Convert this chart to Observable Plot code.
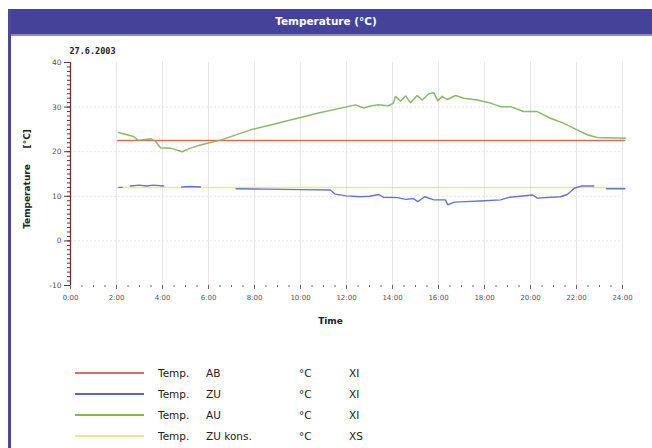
<!DOCTYPE html>
<html>
<head>
<meta charset="utf-8">
<script src="https://cdn.jsdelivr.net/npm/d3@7"></script>
<script src="https://cdn.jsdelivr.net/npm/@observablehq/plot@0.6"></script>
<style>
  body { margin: 0; background: #fff; }
  #wrap { position: relative; width: 652px; height: 448px; overflow: hidden; background: #fff; font-family: "DejaVu Sans", Verdana, sans-serif; }
  #leftbar { position: absolute; left: 8px; top: 9px; width: 3px; height: 439px; background: #4a479c; }
  #titlebar { position: absolute; left: 8px; top: 9px; width: 644px; height: 25px; background: #45429a; color: #fff; font-weight: bold; font-size: 10.5px; text-align: center; line-height: 25px; border-bottom: 2px solid #8c8ac4; }
  #titlebar span { position: relative; left: -4px; }
  #plot { position: absolute; left: 12px; top: 35px; }
  .leg { position: absolute; left: 0; height: 14px; font-size: 10.5px; line-height: 14px; color: #222; }
  .leg .ln { position: absolute; left: 75px; top: 6px; width: 69px; height: 2px; }
  .leg .t1 { position: absolute; left: 158px; top: 0; }
  .leg .t2 { position: absolute; left: 206px; top: 0; }
  .leg .t3 { position: absolute; left: 299px; top: 0; }
  .leg .t4 { position: absolute; left: 349px; top: 0; }
</style>
</head>
<body>
<div id="wrap">
  <div id="titlebar"><span>Temperature (°C)</span></div>
  <div id="leftbar"></div>
  <div id="plot"></div>
  <div id="legend"></div>
</div>
<script>
// ---- data ----
const hourTicks = [0, 2, 4, 6, 8, 10, 12, 14, 16, 18, 20, 22, 24];
const hourLabels = ["0:00", "2:00", "4:00", "6:00", "8:00", "10:00", "12:00", "14:00", "16:00", "18:00", "20:00", "22:00", "24:00"];
const tempTicks = [-10, 0, 10, 20, 30, 40];

const abTime = [2.05, 24.1];
const abVal = [22.5, 22.5];

const zuKonsTime = [2.05, 24.1];
const zuKonsVal = [12.0, 12.0];

const auTime = [2.09, 2.74, 2.96, 3.48, 3.7, 3.91, 4.35, 4.86, 5.22, 5.65, 6.52, 7.83, 9.26, 10.73, 11.6, 12.39, 12.74, 13.0, 13.33, 13.83, 14.04, 14.13, 14.35, 14.57, 14.78, 15.07, 15.29, 15.58, 15.8, 15.97, 16.16, 16.38, 16.74, 17.1, 17.68, 18.26, 18.7, 19.13, 19.7, 20.29, 20.87, 21.43, 22.03, 22.47, 22.9, 24.13];
const auVal  = [24.3, 23.4, 22.5, 22.9, 22.3, 20.9, 20.8, 20.0, 20.8, 21.5, 22.6, 24.9, 26.7, 28.6, 29.6, 30.5, 29.8, 30.2, 30.5, 30.3, 30.9, 32.4, 31.3, 32.5, 31.0, 32.6, 31.6, 33.0, 33.2, 31.4, 32.4, 31.7, 32.6, 32.0, 31.6, 30.9, 30.1, 30.1, 29.0, 29.0, 27.5, 26.4, 24.9, 23.8, 23.2, 23.0];

// NaN marks a gap in the ZU record
const zuTime = [2.1, 2.25, 2.3, 2.6, 3.0, 3.3, 3.6, 4.05, 4.4, 4.83, 5.2, 5.65, 6.5, 7.2, 8.5, 10.0, 11.3, 11.5, 12.0, 12.6, 13.0, 13.4, 13.6, 14.2, 14.6, 14.9, 15.1, 15.4, 15.8, 16.3, 16.4, 16.7, 17.2, 18.0, 18.7, 19.1, 20.1, 20.3, 21.3, 21.6, 21.9, 22.2, 22.75, 23.0, 23.3, 24.1];
const zuVal  = [12.0, 12.0, NaN, 12.3, 12.5, 12.3, 12.5, 12.3, NaN, 12.1, 12.2, 12.1, NaN, 11.7, 11.6, 11.5, 11.4, 10.5, 10.1, 9.9, 10.0, 10.4, 9.8, 9.7, 9.3, 9.5, 8.8, 9.9, 9.2, 9.2, 8.1, 8.7, 8.8, 9.0, 9.2, 9.8, 10.3, 9.6, 9.9, 10.4, 11.8, 12.3, 12.3, NaN, 11.7, 11.7];

const seriesShort = [["Temp.", "AB"], ["Temp.", "ZU"], ["Temp.", "AU"], ["Temp.", "ZU kons."]];
const seriesUnits = ["°C", "°C", "°C", "°C"];
const seriesScale = ["XI", "XI", "XI", "XS"];
const seriesColors = ["#e06a62", "#5468c4", "#86b462", "#eaea8c"];

const zip = (ts, vs) => ts.map((t, i) => ({t, v: vs[i]}));
const ab = zip(abTime, abVal);
const zuk = zip(zuKonsTime, zuKonsVal);
const au = zip(auTime, auVal);
const zu = zip(zuTime, zuVal);

const axisColor = "#6a3434";
const labelColor = "#555";

const chart = Plot.plot({
  width: 640,
  height: 300,
  marginLeft: 58,
  marginRight: 30,
  marginTop: 27,
  marginBottom: 50,
  style: {fontFamily: "DejaVu Sans, Verdana, sans-serif", fontSize: "7px", background: "transparent"},
  x: {domain: [0, 24]},
  y: {domain: [-10, 40]},
  marks: [
    Plot.ruleX(hourTicks.slice(1), {y1: -10, y2: 40, stroke: "#e6e6ea", strokeWidth: 1}),
    Plot.ruleY([0, 10, 20, 30], {x1: 0, x2: 24, stroke: "#e4e4ee", strokeDasharray: "2,2"}),
    // y axis: line, minor and major ticks
    Plot.ruleX([0], {y1: -10, y2: 40, stroke: axisColor, strokeWidth: 1.3}),
    Plot.axisY({ticks: d3.range(-10, 41, 1), tickSize: 3, text: null, stroke: axisColor, label: null}),
    Plot.axisY({ticks: tempTicks, tickSize: 6, tickPadding: 3, stroke: axisColor, fill: labelColor, label: null, fontSize: 7.5, tickFormat: d => String(d)}),
    // x axis: dotted minor ticks and major ticks
    Plot.axisX({ticks: d3.range(0.5, 24.5, 0.5).filter(d => d % 2 !== 0), tickSize: 2, text: null, stroke: "#8a5a5a", label: null}),
    Plot.axisX({ticks: hourTicks, tickSize: 4, tickPadding: 6, stroke: "#8a5a5a", fill: labelColor, label: null,
      tickFormat: d => hourLabels[hourTicks.indexOf(d)]}),
    Plot.text(["Time"], {frameAnchor: "bottom", dx: -16, dy: 38, fontWeight: "bold", fontSize: 9, fill: "#222"}),
    Plot.text(["Temperature\u00a0\u00a0\u00a0\u00a0\u00a0[°C]"], {frameAnchor: "left", textAnchor: "middle", dx: -43, dy: 5, rotate: -90, fontWeight: "bold", fontSize: 9, fill: "#222"}),
    Plot.text(["27.6.2003"], {frameAnchor: "top-left", dx: -1, dy: -15, textAnchor: "start", fontWeight: "bold", fontSize: 8.5, fill: "#222", fontFamily: "DejaVu Sans Mono"}),
    // data
    Plot.line(zuk, {x: "t", y: "v", stroke: seriesColors[3], strokeWidth: 1.5}),
    Plot.line(ab, {x: "t", y: "v", stroke: seriesColors[0], strokeWidth: 1.4}),
    Plot.line(zu, {x: "t", y: "v", stroke: seriesColors[1], strokeWidth: 1.4, strokeOpacity: 0.9}),
    Plot.line(au, {x: "t", y: "v", stroke: seriesColors[2], strokeWidth: 1.5, strokeOpacity: 0.95})
  ]
});
document.getElementById("plot").appendChild(chart);

// legend
const legend = document.getElementById("legend");
const rowTops = [366, 387, 408, 429];
seriesShort.forEach((s, i) => {
  const row = document.createElement("div");
  row.className = "leg";
  row.style.top = rowTops[i] + "px";
  row.style.width = "652px";
  row.innerHTML = `<div class="ln" style="background:${seriesColors[i]}"></div>` +
    `<span class="t1">${s[0]}</span><span class="t2">${s[1]}</span>` +
    `<span class="t3">${seriesUnits[i]}</span><span class="t4">${seriesScale[i]}</span>`;
  legend.appendChild(row);
});
</script>
</body>
</html>
